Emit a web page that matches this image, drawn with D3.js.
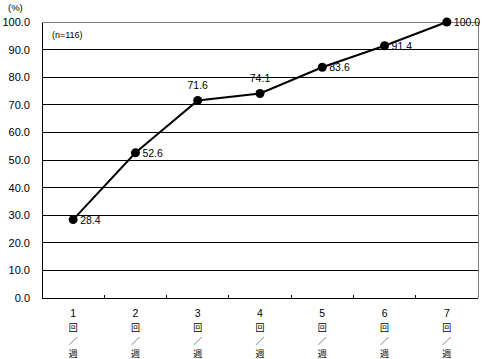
<!DOCTYPE html>
<html><head><meta charset="utf-8">
<script src="https://cdn.jsdelivr.net/npm/d3@7"></script>
<style>body{margin:0;background:#fff}svg{display:block}</style>
</head><body>
<svg id="c" width="484" height="359"></svg>
<script>
const categories = ["1", "2", "3", "4", "5", "6", "7"];
const unitChars = ["回", "／", "週"];
const values = [28.4, 52.6, 71.6, 74.1, 83.6, 91.4, 100.0];
const labelPos = ["right", "right", "top", "top", "right", "right", "right"];
const yTicks = [0, 10, 20, 30, 40, 50, 60, 70, 80, 90, 100];

const svg = d3.select("#c");
const m = {l: 42, r: 478, t: 22, b: 298};
const font = "'Liberation Sans', Arial, sans-serif";
const cjk = "'Noto Sans CJK JP', sans-serif";

const x = d3.scaleBand().domain(categories).range([m.l, m.r]);
const y = d3.scaleLinear().domain([0, 100]).range([m.b, m.t]);

svg.append("g").selectAll("line").data(yTicks.filter(d => d > 0 && d < 100)).join("line")
  .attr("x1", m.l).attr("x2", m.r).attr("y1", d => y(d)).attr("y2", d => y(d))
  .attr("stroke", "#000").attr("stroke-width", 1).attr("shape-rendering", "crispEdges");
svg.append("line").attr("x1", m.l).attr("x2", m.r).attr("y1", y(100)).attr("y2", y(100))
  .attr("stroke", "#808080").attr("shape-rendering", "crispEdges");
svg.append("line").attr("x1", m.r).attr("x2", m.r).attr("y1", m.t).attr("y2", m.b)
  .attr("stroke", "#808080").attr("shape-rendering", "crispEdges");

const yAxis = d3.axisLeft(y).tickValues(yTicks).tickFormat(d3.format(".1f")).tickSize(0).tickPadding(12);
const gy = svg.append("g").attr("transform", `translate(${m.l},0)`).call(yAxis);
gy.select(".domain").attr("stroke", "#000").attr("shape-rendering", "crispEdges");
gy.selectAll("text").attr("font-family", font).attr("font-size", 11).attr("fill", "#000");

const gx = svg.append("g").attr("transform", `translate(0,${m.b})`);
gx.append("line").attr("x1", m.l).attr("x2", m.r).attr("stroke", "#000").attr("shape-rendering", "crispEdges");
gx.selectAll("line.tk").data(categories.slice(1)).join("line").attr("class", "tk")
  .attr("x1", d => x(d)).attr("x2", d => x(d)).attr("y1", 0).attr("y2", -3)
  .attr("stroke", "#000").attr("shape-rendering", "crispEdges");
const lab = gx.selectAll("g.lab").data(categories).join("g").attr("class", "lab")
  .attr("transform", d => `translate(${x(d) + x.bandwidth() / 2},0)`);
lab.append("text").attr("y", 19).attr("text-anchor", "middle").attr("font-family", font)
  .attr("font-size", 10.5).attr("fill", "#000").text(d => d);
unitChars.forEach((ch, k) => {
  lab.append("text").attr("y", 33 + k * 13).attr("text-anchor", "middle").attr("font-family", cjk)
    .attr("font-size", 9).attr("fill", "#000").text(ch);
});

const line = d3.line().x((d, i) => x(categories[i]) + x.bandwidth() / 2).y(d => y(d));
svg.append("path").datum(values).attr("d", line).attr("fill", "none").attr("stroke", "#000").attr("stroke-width", 2);
svg.append("g").selectAll("circle").data(values).join("circle")
  .attr("cx", (d, i) => x(categories[i]) + x.bandwidth() / 2).attr("cy", d => y(d)).attr("r", 4.5).attr("fill", "#000");

svg.append("g").selectAll("text").data(values).join("text")
  .attr("x", (d, i) => x(categories[i]) + x.bandwidth() / 2 + (labelPos[i] === "right" ? 7 : 0))
  .attr("y", (d, i) => y(d) + (labelPos[i] === "right" ? 4 : -11))
  .attr("text-anchor", (d, i) => labelPos[i] === "right" ? "start" : "middle")
  .attr("font-family", font).attr("font-size", 10.5).attr("fill", "#000").text(d => d.toFixed(1));

svg.append("text").attr("x", 8).attr("y", 11).attr("font-family", font).attr("font-size", 9.5).text("(%)");
svg.append("text").attr("x", 52).attr("y", 38).attr("font-family", font).attr("font-size", 9).text("(n=116)");
</script>
</body></html>
